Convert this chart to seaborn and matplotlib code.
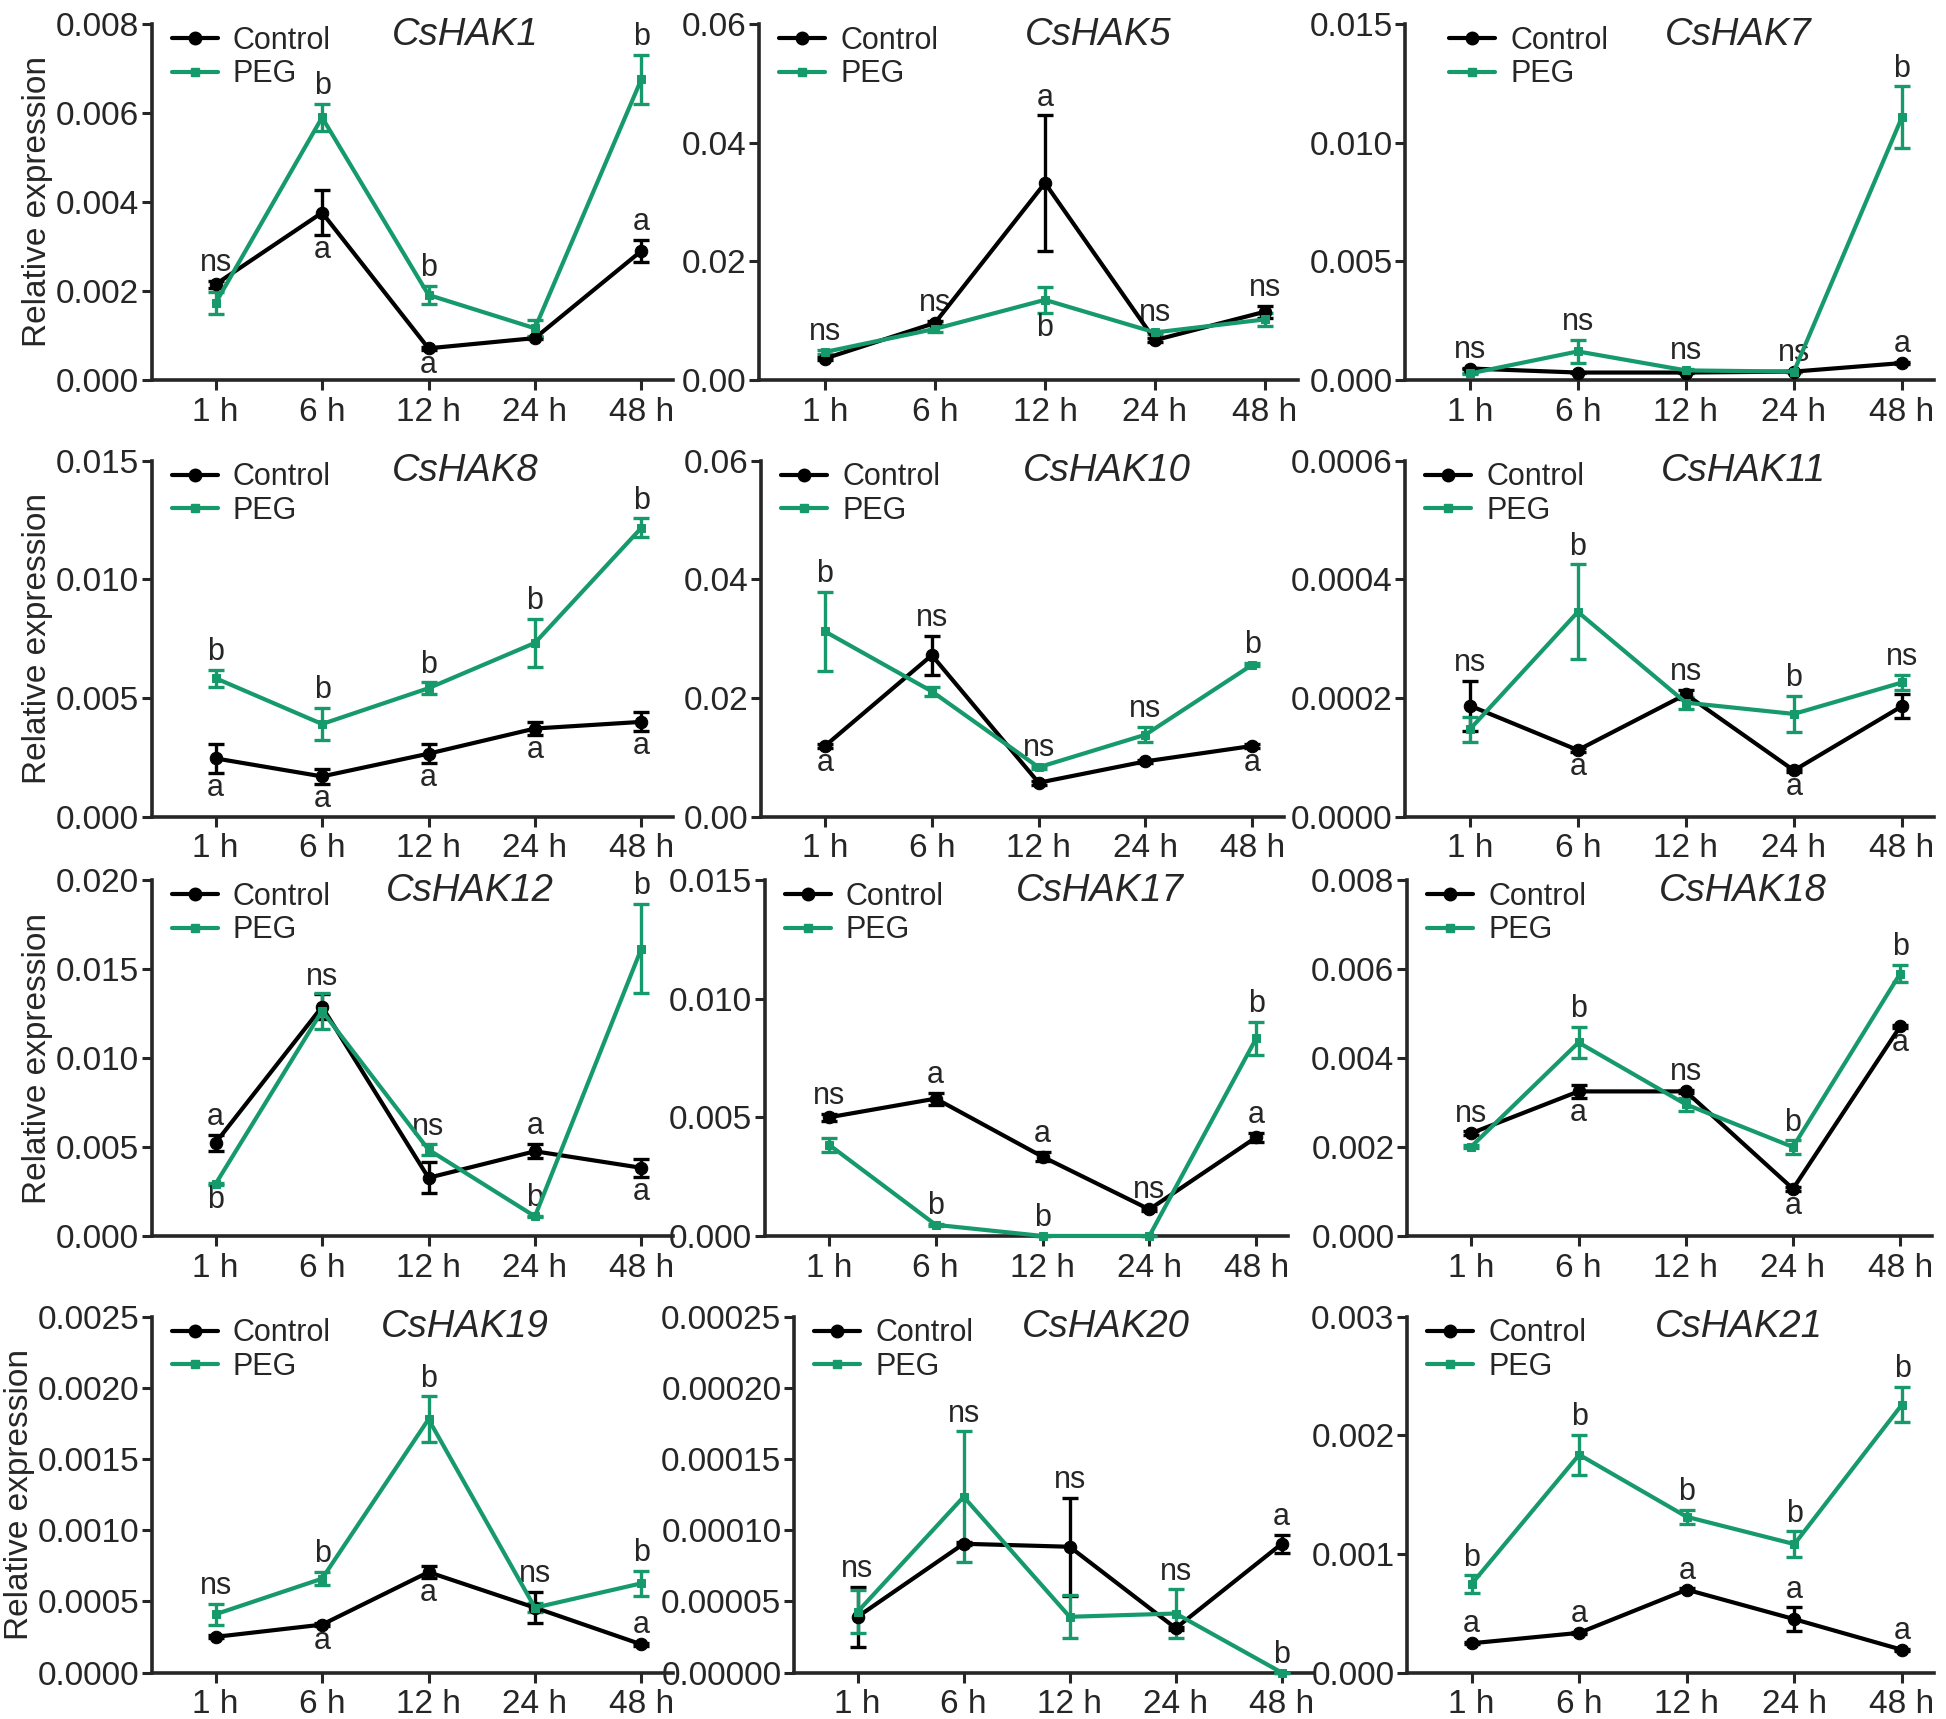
import numpy as np
import matplotlib
matplotlib.use('Agg')
import matplotlib.pyplot as plt
import seaborn as sns
from matplotlib.lines import Line2D
from matplotlib.ticker import FormatStrFormatter

# Datos
times = ['1 h', '6 h', '12 h', '24 h', '48 h']
genes = ['CsHAK1', 'CsHAK5', 'CsHAK7', 'CsHAK8', 'CsHAK10', 'CsHAK11',
         'CsHAK12', 'CsHAK17', 'CsHAK18', 'CsHAK19', 'CsHAK20', 'CsHAK21']

control_mean = [
    [0.00215, 0.00376, 0.00071, 0.00094, 0.0029],
    [0.0036, 0.0096, 0.0332, 0.0067, 0.0115],
    [0.00048, 0.00031, 0.00031, 0.00035, 0.00071],
    [0.00245, 0.00169, 0.00265, 0.00371, 0.00399],
    [0.0119, 0.0272, 0.0057, 0.0093, 0.0119],
    [0.000187, 0.000112, 0.000206, 0.0000777, 0.000186],
    [0.00524, 0.01288, 0.00327, 0.00476, 0.00383],
    [0.005, 0.00579, 0.00334, 0.00112, 0.00416],
    [0.00231, 0.00325, 0.00325, 0.00106, 0.00471],
    [0.000251, 0.000337, 0.000706, 0.000456, 0.000198],
    [0.0000392, 0.0000905, 0.0000884, 0.0000312, 0.0000905],
    [0.000247, 0.000335, 0.000699, 0.00045, 0.000192],
]
control_err = [
    [0.00008, 0.0005, 0.00003, 0.00003, 0.00025],
    [0.0002, 0.0004, 0.0114, 0.0003, 0.001],
    [0.00003, 0.00003, 0.00003, 0.00003, 0.00004],
    [0.0006, 0.00033, 0.0004, 0.00026, 0.0004],
    [0.0003, 0.0033, 0.0003, 0.0003, 0.0003],
    [0.000042, 0.000003, 0.000008, 0.000003, 0.00002],
    [0.00044, 0.0007, 0.00087, 0.0004, 0.0005],
    [0.00015, 0.00025, 0.0002, 0.00005, 0.0002],
    [0.00004, 0.00015, 0.00004, 0.00004, 0.00004],
    [0.00001, 0.00001, 0.00004, 0.00011, 0.00001],
    [0.000021, 0.000001, 0.0000344, 0.000001, 0.0000065],
    [0.00001, 0.00001, 0.00001, 0.0001, 0.00001],
]
peg_mean = [
    [0.00173, 0.0059, 0.00191, 0.00116, 0.00676],
    [0.0047, 0.0086, 0.0135, 0.008, 0.0102],
    [0.00027, 0.0012, 0.0004, 0.00035, 0.01107],
    [0.00583, 0.0039, 0.00541, 0.00732, 0.01217],
    [0.0312, 0.0211, 0.0083, 0.0138, 0.0256],
    [0.000147, 0.000345, 0.000192, 0.000173, 0.000226],
    [0.00293, 0.01265, 0.00485, 0.0011, 0.01615],
    [0.00385, 0.00047, 0.0, 0.0, 0.00833],
    [0.00201, 0.00435, 0.00296, 0.002, 0.0059],
    [0.00041, 0.00066, 0.00178, 0.000456, 0.000627],
    [0.0000427, 0.0001235, 0.0000392, 0.0000415, 0.0],
    [0.000746, 0.001837, 0.001313, 0.001083, 0.00226],
]
peg_err = [
    [0.00024, 0.0003, 0.0002, 0.00018, 0.00055],
    [0.0003, 0.0006, 0.0022, 0.0003, 0.0011],
    [0.00003, 0.00048, 0.00005, 0.00003, 0.0013],
    [0.00035, 0.00067, 0.00024, 0.001, 0.0004],
    [0.0067, 0.0008, 0.0003, 0.0013, 0.0003],
    [0.000021, 0.00008, 0.00001, 0.00003, 0.000013],
    [0.00005, 0.001, 0.0003, 0.00005, 0.0025],
    [0.0003, 0.00003, 0.0, 0.0, 0.0007],
    [0.00004, 0.00035, 0.00015, 0.00015, 0.0002],
    [0.000075, 0.000046, 0.00016, 0.00003, 0.000087],
    [0.000015, 0.000046, 0.000015, 0.000017, 0.0],
    [0.000074, 0.00017, 0.00006, 0.000107, 0.00015],
]

# letras de significancia: (tiempo, texto, serie, lado)
letters = [
    [(0, 'ns', 'C', 'up'), (1, 'b', 'P', 'up'), (1, 'a', 'C', 'down'), (2, 'b', 'P', 'up'),
     (2, 'a', 'C', 'down'), (4, 'b', 'P', 'up'), (4, 'a', 'C', 'up')],
    [(0, 'ns', 'P', 'up'), (1, 'ns', 'C', 'up'), (2, 'a', 'C', 'up'), (2, 'b', 'P', 'down'),
     (3, 'ns', 'P', 'up'), (4, 'ns', 'C', 'up')],
    [(0, 'ns', 'C', 'up'), (1, 'ns', 'P', 'up'), (2, 'ns', 'P', 'up'), (3, 'ns', 'P', 'up'),
     (4, 'b', 'P', 'up'), (4, 'a', 'C', 'up')],
    [(i, 'b', 'P', 'up') for i in range(5)] + [(i, 'a', 'C', 'down') for i in range(5)],
    [(0, 'b', 'P', 'up'), (0, 'a', 'C', 'down'), (1, 'ns', 'C', 'up'), (2, 'ns', 'P', 'up'),
     (3, 'ns', 'P', 'up'), (4, 'b', 'P', 'up'), (4, 'a', 'C', 'down')],
    [(0, 'ns', 'C', 'up'), (1, 'b', 'P', 'up'), (1, 'a', 'C', 'down'), (2, 'ns', 'C', 'up'),
     (3, 'b', 'P', 'up'), (3, 'a', 'C', 'down'), (4, 'ns', 'P', 'up')],
    [(0, 'a', 'C', 'up'), (0, 'b', 'P', 'down'), (1, 'ns', 'C', 'up'), (2, 'ns', 'P', 'up'),
     (3, 'a', 'C', 'up'), (3, 'b', 'P', 'up'), (4, 'b', 'P', 'up'), (4, 'a', 'C', 'down')],
    [(0, 'ns', 'C', 'up'), (1, 'a', 'C', 'up'), (1, 'b', 'P', 'up'), (2, 'a', 'C', 'up'),
     (2, 'b', 'P', 'up'), (3, 'ns', 'C', 'up'), (4, 'b', 'P', 'up'), (4, 'a', 'C', 'up')],
    [(0, 'ns', 'C', 'up'), (1, 'b', 'P', 'up'), (1, 'a', 'C', 'down'), (2, 'ns', 'C', 'up'),
     (3, 'b', 'P', 'up'), (3, 'a', 'C', 'down'), (4, 'b', 'P', 'up'), (4, 'a', 'C', 'down')],
    [(0, 'ns', 'P', 'up'), (1, 'b', 'P', 'up'), (1, 'a', 'C', 'down'), (2, 'b', 'P', 'up'),
     (2, 'a', 'C', 'down'), (3, 'ns', 'C', 'up'), (4, 'b', 'P', 'up'), (4, 'a', 'C', 'up')],
    [(0, 'ns', 'C', 'up'), (1, 'ns', 'P', 'up'), (2, 'ns', 'C', 'up'), (3, 'ns', 'P', 'up'),
     (4, 'a', 'C', 'up'), (4, 'b', 'P', 'up')],
    [(i, 'b', 'P', 'up') for i in range(5)] + [(i, 'a', 'C', 'up') for i in range(5)],
]

y_top = [0.008, 0.06, 0.015, 0.015, 0.06, 0.0006, 0.020, 0.015, 0.008, 0.0025, 0.00025, 0.003]
y_step = [0.002, 0.02, 0.005, 0.005, 0.02, 0.0002, 0.005, 0.005, 0.002, 0.0005, 0.00005, 0.001]
y_dec = [3, 2, 3, 3, 2, 4, 3, 3, 3, 4, 5, 3]

# Estilo
sns.set_style('ticks')
plt.rcParams['font.family'] = ['Liberation Sans', 'DejaVu Sans']
black = '#000000'
green = '#169a6c'

fig = plt.figure(figsize=(19.46, 17.19), dpi=100)
# posicion de cada panel
row_bottom = [0.779, 0.525, 0.281, 0.027]
ax_h = 0.207
col_left = [[0.078, 0.390, 0.722],
            [0.078, 0.391, 0.722],
            [0.078, 0.393, 0.723],
            [0.078, 0.408, 0.723]]
ax_w = [[0.268, 0.277, 0.272],
        [0.268, 0.269, 0.272],
        [0.268, 0.269, 0.270],
        [0.268, 0.267, 0.271]]
title_x = [[0.60, 0.63, 0.63],
           [0.60, 0.66, 0.64],
           [0.61, 0.64, 0.64],
           [0.60, 0.60, 0.63]]
legend_x = [[0.015, 0.015, 0.06],
            [0.015, 0.015, 0.015],
            [0.015, 0.015, 0.015],
            [0.015, 0.015, 0.015]]

x = np.arange(len(times))
for k, gene in enumerate(genes):
    r, c = divmod(k, 3)
    ax = fig.add_axes([col_left[r][c], row_bottom[r], ax_w[r][c], ax_h])

    series = {
        'C': (control_mean[k], control_err[k], black, 'o', 9),
        'P': (peg_mean[k], peg_err[k], green, 's', 6),
    }
    for key in ['C', 'P']:
        m, e, col, mk, ms = series[key]
        ax.errorbar(x, m, yerr=e, fmt='none', ecolor=col, elinewidth=2.4,
                    capsize=6, capthick=2.4, clip_on=False, zorder=3)
        sns.lineplot(x=x, y=m, ax=ax, color=col, marker=mk, markersize=ms,
                     markeredgecolor=col, linewidth=3, clip_on=False, zorder=4)

    for (i, txt, key, side) in letters[k]:
        m, e = series[key][0][i], series[key][1][i]
        if side == 'up':
            ax.annotate(txt, xy=(i, m + e), xytext=(0, 2), textcoords='offset points',
                        ha='center', va='bottom', fontsize=22)
        else:
            ax.annotate(txt, xy=(i, m - e), xytext=(0, 0), textcoords='offset points',
                        ha='center', va='top', fontsize=22)

    ax.set_xlim(-0.6, 4.3)
    ax.set_ylim(0, y_top[k])
    ax.set_yticks(np.arange(0, y_top[k] + y_step[k] / 2, y_step[k]))
    ax.yaxis.set_major_formatter(FormatStrFormatter('%.' + str(y_dec[k]) + 'f'))
    ax.set_xticks(x)
    ax.set_xticklabels(times)
    ax.tick_params(axis='both', labelsize=24, width=2.2, length=7, pad=2)
    ax.tick_params(axis='x', pad=5)
    for sp in ['left', 'bottom']:
        ax.spines[sp].set_linewidth(2.6)
    sns.despine(ax=ax)

    ax.text(title_x[r][c], 0.97, gene, transform=ax.transAxes, style='italic',
            ha='center', va='center', fontsize=27.5)

    handles = [Line2D([0], [0], color=black, marker='o', markersize=9, linewidth=3),
               Line2D([0], [0], color=green, marker='s', markersize=6, linewidth=3)]
    ax.legend(handles, ['Control', 'PEG'], loc='upper left',
              bbox_to_anchor=(legend_x[r][c], 1.03),
              frameon=False, fontsize=22, handlelength=1.5, handletextpad=0.5,
              labelspacing=0.12, borderaxespad=0)

    if c == 0:
        ax.set_ylabel('Relative expression', fontsize=24, labelpad=2)

plt.savefig('out.png', dpi=100)
